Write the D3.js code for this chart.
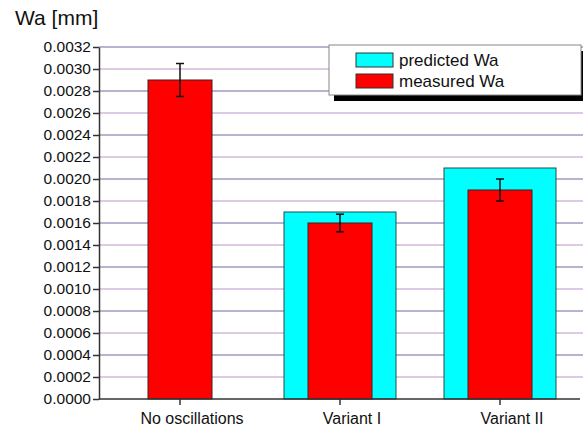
<!DOCTYPE html>
<html>
<head>
<meta charset="utf-8">
<script src="https://cdn.jsdelivr.net/npm/d3@7"></script>
<style>
  body { margin: 0; background: #fff; }
  svg { display: block; font-family: Arial, "Liberation Sans", sans-serif; }
</style>
</head>
<body>
<div id="chart"></div>
<script>
const categories = ["No oscillations", "Variant I", "Variant II"];
const predicted = [null, 0.0017, 0.0021];
const measured = [0.0029, 0.0016, 0.0019];
const measuredErr = [0.00015, 0.00008, 0.0001];
const yTicks = d3.range(0, 17).map(i => i * 0.0002);
const legendLabels = ["predicted Wa", "measured Wa"];

const W = 583, H = 427;
const margin = {top: 47, right: 0, bottom: 28, left: 99};

const svg = d3.select("#chart")
    .append("svg")
    .attr("width", W)
    .attr("height", H);

const x = d3.scaleBand()
    .domain(categories)
    .range([100, 580])
    .padding(0);

const y = d3.scaleLinear()
    .domain([0, 0.0032])
    .range([H - margin.bottom, margin.top]);

// gridlines, alternating colours
svg.append("g")
    .selectAll("line")
    .data(yTicks.slice(1))
    .join("line")
    .attr("x1", margin.left)
    .attr("x2", W)
    .attr("y1", d => y(d))
    .attr("y2", d => y(d))
    .attr("stroke", (d, i) => i % 2 === 0 ? "#d5b8dc" : "#9c9cc2")
    .attr("stroke-width", 1.5);

// title
svg.append("text")
    .attr("x", 15)
    .attr("y", 25)
    .attr("font-size", 21)
    .attr("fill", "#111")
    .text("Wa [mm]");

// predicted bars (cyan, wide)
svg.append("g")
    .selectAll("rect")
    .data(categories.map((c, i) => ({c, v: predicted[i]})).filter(d => d.v != null))
    .join("rect")
    .attr("x", d => x(d.c) + x.bandwidth() * 0.15)
    .attr("width", x.bandwidth() * 0.7)
    .attr("y", d => y(d.v))
    .attr("height", d => y(0) - y(d.v))
    .attr("fill", "#00ffff")
    .attr("stroke", "#2a4a4a")
    .attr("stroke-width", 1);

// measured bars (red, narrow)
svg.append("g")
    .selectAll("rect")
    .data(categories.map((c, i) => ({c, v: measured[i], e: measuredErr[i]})))
    .join("rect")
    .attr("x", d => x(d.c) + x.bandwidth() * 0.3)
    .attr("width", x.bandwidth() * 0.4)
    .attr("y", d => y(d.v))
    .attr("height", d => y(0) - y(d.v))
    .attr("fill", "#ff0000")
    .attr("stroke", "#3a2020")
    .attr("stroke-width", 1);

// error bars
const err = svg.append("g")
    .selectAll("g")
    .data(categories.map((c, i) => ({c, v: measured[i], e: measuredErr[i]})))
    .join("g")
    .attr("stroke", "#111")
    .attr("stroke-width", 1.5);

err.append("line")
    .attr("x1", d => x(d.c) + x.bandwidth() / 2)
    .attr("x2", d => x(d.c) + x.bandwidth() / 2)
    .attr("y1", d => y(d.v + d.e))
    .attr("y2", d => y(d.v - d.e));
err.append("line")
    .attr("x1", d => x(d.c) + x.bandwidth() / 2 - 4)
    .attr("x2", d => x(d.c) + x.bandwidth() / 2 + 4)
    .attr("y1", d => y(d.v + d.e))
    .attr("y2", d => y(d.v + d.e));
err.append("line")
    .attr("x1", d => x(d.c) + x.bandwidth() / 2 - 4)
    .attr("x2", d => x(d.c) + x.bandwidth() / 2 + 4)
    .attr("y1", d => y(d.v - d.e))
    .attr("y2", d => y(d.v - d.e));

// y axis
const yAxis = svg.append("g")
    .attr("transform", `translate(${margin.left},0)`)
    .call(d3.axisLeft(y).tickValues(yTicks).tickFormat(d3.format(".4f")).tickSize(6).tickPadding(2).tickSizeOuter(0));
yAxis.selectAll("text").attr("font-size", 15.5).attr("fill", "#111").attr("font-family", "Arial, 'Liberation Sans', sans-serif");
yAxis.selectAll("line").attr("stroke", "#333").attr("stroke-width", 1.5);
yAxis.select(".domain").attr("stroke", "#333").attr("stroke-width", 1.5);

// x axis
const xAxis = svg.append("g")
    .attr("transform", `translate(0,${y(0)})`)
    .call(d3.axisBottom(x).tickSize(6).tickPadding(8).tickSizeOuter(0));
xAxis.select(".domain").remove();
xAxis.append("line")
    .attr("x1", margin.left)
    .attr("x2", 580)
    .attr("stroke", "#333")
    .attr("stroke-width", 1.5);
xAxis.selectAll("text")
    .attr("font-size", 16)
    .attr("fill", "#111")
    .attr("dx", 12)
    .attr("font-family", "Arial, 'Liberation Sans', sans-serif");
xAxis.selectAll(".tick line").attr("stroke", "#333").attr("stroke-width", 1.5);

// legend
const legend = svg.append("g").attr("transform", "translate(329,45)");
legend.append("rect")
    .attr("x", 5).attr("y", 6)
    .attr("width", 252).attr("height", 50)
    .attr("fill", "#000");
legend.append("rect")
    .attr("width", 252).attr("height", 50)
    .attr("fill", "#fff")
    .attr("stroke", "#888")
    .attr("stroke-width", 1);
const legColors = ["#00ffff", "#ff0000"];
const li = legend.selectAll("g.item")
    .data(legendLabels)
    .join("g")
    .attr("class", "item")
    .attr("transform", (d, i) => `translate(27,${8 + i * 21})`);
li.append("rect")
    .attr("width", 37).attr("height", 14)
    .attr("fill", (d, i) => legColors[i])
    .attr("stroke", "#333");
li.append("text")
    .attr("x", 43).attr("y", 13)
    .attr("font-size", 17)
    .attr("fill", "#111")
    .text(d => d);
</script>
</body>
</html>
